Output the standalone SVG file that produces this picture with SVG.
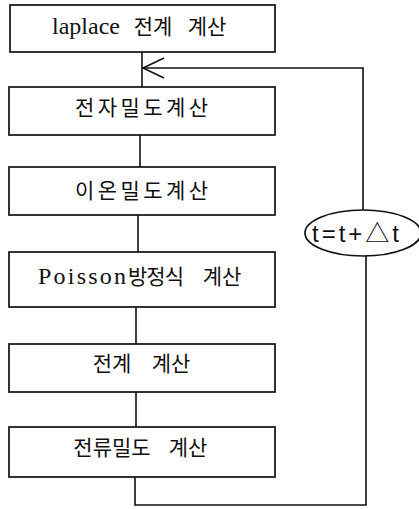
<svg xmlns="http://www.w3.org/2000/svg" width="419" height="509" viewBox="0 0 419 509">
<style>
.box{fill:#fff;stroke:#111;stroke-width:1.7}
.ln{fill:none;stroke:#111;stroke-width:1.6}
.t{font-family:"Liberation Serif","Noto Sans CJK KR",serif;font-size:21px;fill:#111;text-anchor:middle}
.lat{font-size:24px}
.e{font-family:"Liberation Sans","Noto Sans CJK KR",sans-serif;font-size:24px;fill:#111}
.tri{font-family:"Noto Sans CJK KR",sans-serif}
</style>
<rect width="419" height="509" fill="#fff"/>
<g id="connectors">
<line class="ln" x1="142" y1="52" x2="142" y2="87"/>
<line class="ln" x1="140" y1="135" x2="140" y2="167"/>
<line class="ln" x1="138" y1="215" x2="138" y2="252"/>
<line class="ln" x1="136" y1="307" x2="136" y2="344"/>
<line class="ln" x1="136" y1="392" x2="136" y2="427"/>
<path class="ln" d="M135,477 V505 H366 V256"/>
<path class="ln" d="M363,210 V68 H142"/>
<path class="ln" d="M164,58 L143,68 L164,78"/>
</g>
<g id="n1"><rect class="box" x="10" y="5" width="265" height="47"/>
<text class="t" y="34"><tspan class="lat" x="86">laplace</tspan><tspan x="153">전계</tspan><tspan x="207">계산</tspan></text></g>
<g id="n2"><rect class="box" x="9" y="87" width="266" height="48"/><text class="t" x="141.5" y="115" textLength="133" lengthAdjust="spacing">전자밀도계산</text></g>
<g id="n3"><rect class="box" x="9" y="167" width="266" height="48"/><text class="t" x="141.5" y="198" textLength="133" lengthAdjust="spacing">이온밀도계산</text></g>
<g id="n4"><rect class="box" x="9" y="252" width="266" height="55"/>
<text class="t" y="284"><tspan class="lat" x="82" textLength="88" lengthAdjust="spacing">Poisson</tspan><tspan x="156" textLength="56" lengthAdjust="spacing">방정식</tspan><tspan x="222">계산</tspan></text></g>
<g id="n5"><rect class="box" x="9" y="344" width="266" height="48"/>
<text class="t" y="371"><tspan x="112">전계</tspan><tspan x="171">계산</tspan></text></g>
<g id="n6"><rect class="box" x="9" y="427" width="266" height="50"/>
<text class="t" y="455"><tspan x="112">전류밀도</tspan><tspan x="188">계산</tspan></text></g>
<g id="n7"><ellipse class="box" cx="363" cy="233" rx="58" ry="23"/>
<text class="e" x="312" y="242" textLength="87" lengthAdjust="spacing">t=t+<tspan class="tri">△</tspan>t</text></g>
</svg>
